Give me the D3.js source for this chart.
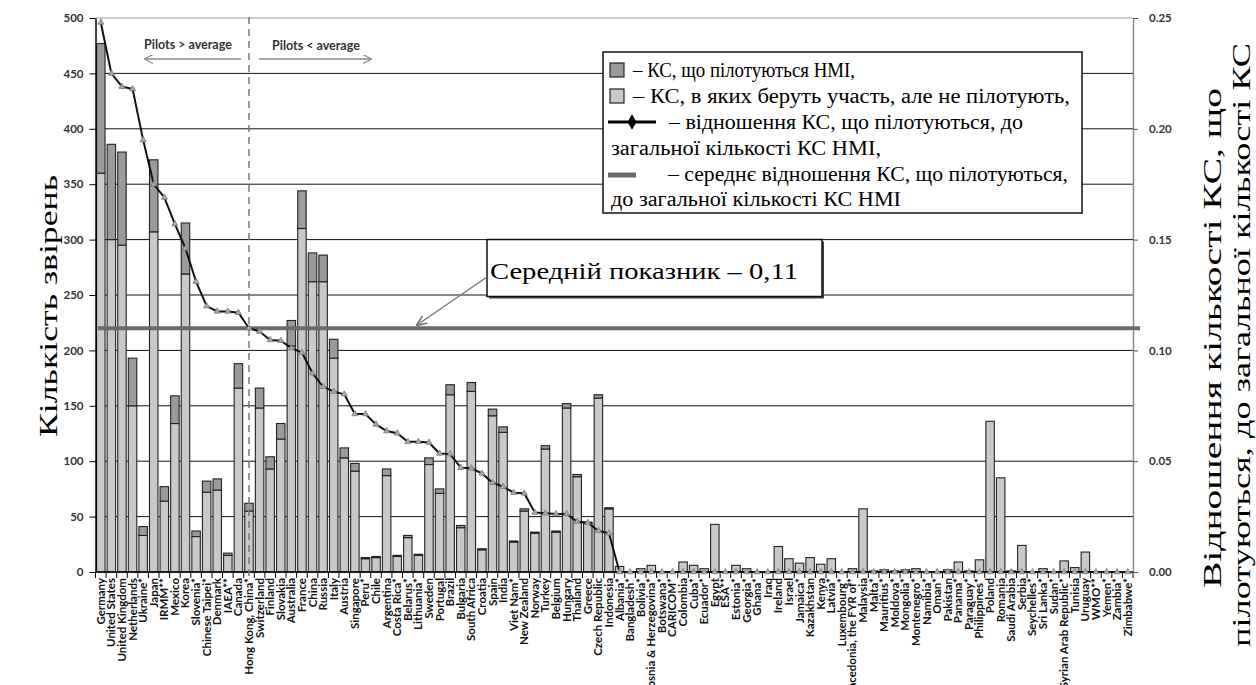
<!DOCTYPE html>
<html><head><meta charset="utf-8">
<script src="https://cdn.jsdelivr.net/npm/d3@7"></script>
<style>body{margin:0;background:#fff}svg{display:block}</style>
</head><body>
<svg id="c" width="1256" height="685"></svg>
<script>
const categories = ["Germany","United States","United Kingdom","Netherlands","Ukraine*","Japan","IRMM**","Mexico","Korea","Slovenia*","Chinese Taipei*","Denmark","IAEA**","Canada","Hong Kong, China*","Switzerland","Finland","Slovakia","Australia","France","China","Russia","Italy","Austria","Singapore","Peru*","Chile","Argentina","Costa Rica*","Belarus*","Lithuania*","Sweden","Portugal","Brazil","Bulgaria","South Africa","Croatia","Spain","India","Viet Nam*","New Zealand","Norway","Turkey","Belgium","Hungary","Thailand","Greece","Czech Republic","Indonesia","Albania*","Bangladesh*","Bolivia*","Bosnia & Herzegovina*","Botswana*","CARICOM*","Colombia","Cuba*","Ecuador*","Egypt","ESA**","Estonia*","Georgia*","Ghana*","Iraq","Ireland","Israel","Jamaica*","Kazakhstan","Kenya","Latvia*","Luxembourg*","Macedonia, the FYR of*","Malaysia","Malta*","Mauritius*","Moldova*","Mongolia*","Montenegro*","Namibia*","Oman*","Pakistan","Panama*","Paraguay*","Philippines*","Poland","Romania","Saudi Arabia","Serbia","Seychelles*","Sri Lanka*","Sudan*","Syrian Arab Republic*","Tunisia","Uruguay","WMO**","Yemen*","Zambia*","Zimbabwe*"];

// KC in which the NMI participates but does not pilot
const participating = [360,300,295,150,33,307,64,134,269,32,72,74,15,166,55,148,93,120,204,310,262,262,193,103,91,12,13,87,14,31,15,97,71,160,40,163,20,141,126,27,55,35,111,36,148,86,44,157,57,5,
 0,3,6,0,0,9,6,3,43,0,6,3,0,0,23,12,8,13,7,12,0,3,57,1,2,1,2,3,0,0,2,9,1,11,136,85,1,24,0,3,0,10,4,18,0,0,0,0];

// KC piloted by the NMI
const piloted = [117,86,84,43,8,65,13,25,46,5,10,10,2,22,7,18,11,14,23,34,26,24,17,9,7,1,1,6,1,2,1,6,4,9,2,8,1,6,5,1,2,1,3,1,4,2,1,3,1,0,
 0,0,0,0,0,0,0,0,0,0,0,0,0,0,0,0,0,0,0,0,0,0,0,0,0,0,0,0,0,0,0,0,0,0,0,0,0,0,0,0,0,0,0,0,0,0,0,0];

// ratio of piloted KC to total KC of the NMI (right axis)
const ratio = [0.248,0.225,0.219,0.218,0.195,0.175,0.169,0.157,0.146,0.131,0.120,0.1176,0.1176,0.117,0.110,0.1085,0.1047,0.1044,0.101,0.099,0.0897,0.0836,0.0814,0.0802,0.0713,0.0713,0.0666,0.0636,0.0626,0.0588,0.0588,0.0584,0.0535,0.0532,0.0471,0.0468,0.0445,0.0403,0.0385,0.0358,0.0355,0.0268,0.0265,0.0262,0.0262,0.0227,0.0222,0.0186,0.0175,0,
 0,0,0,0,0,0,0,0,0,0,0,0,0,0,0,0,0,0,0,0,0,0,0,0,0,0,0,0,0,0,0,0,0,0,0,0,0,0,0,0,0,0,0,0,0,0,0,0];

const averageRatio = 0.11;
const averageLabel = "Середній показник – 0,11";
const leftTicks = [0,50,100,150,200,250,300,350,400,450,500];
const rightTicks = [0,0.05,0.10,0.15,0.20,0.25];
const dividerCategory = "Hong Kong, China*";
const leftTitle = "Кількість звірень";
const rightTitle = ["Відношення кількості КС, що","пілотуються, до загальної кількості КС"];
const legendLines = ["– КС, що пілотуються НМІ,","– КС, в яких беруть участь, але не пілотують,","– відношення КС, що пілотуються, до","загальної кількості КС НМІ,","– середнє відношення КС, що пілотуються,","до загальної кількості КС НМІ"];

const svg = d3.select("#c");
const X0 = 95.5, X1 = 1133, Y0 = 572, Y1 = 18;
const x = d3.scaleBand().domain(categories).range([X0, X1]).paddingInner(0.2).paddingOuter(0.1);
const yL = d3.scaleLinear().domain([0,500]).range([Y0, Y1]);
const yR = d3.scaleLinear().domain([0,0.25]).range([Y0, Y1]);
const step = x.step();
const cx = d => x(d) + x.bandwidth()/2;
const serif = "'Liberation Serif','Times New Roman',serif";
const sans = "Lato, 'Open Sans', sans-serif";

// gridlines
svg.append("g").selectAll("line").data(leftTicks.filter(t=>t>0)).join("line")
  .attr("x1", X0).attr("x2", X1).attr("y1", d=>yL(d)).attr("y2", d=>yL(d))
  .attr("stroke", d=> d===500 ? "#999" : "#111").attr("stroke-width", 1);

// bars
const data = categories.map((c,i)=>({c, p: participating[i], d: piloted[i], r: ratio[i]}));
const gb = svg.append("g");
gb.selectAll("rect.l").data(data.filter(d=>d.p>0)).join("rect").attr("class","l")
  .attr("x", d=>x(d.c)).attr("width", x.bandwidth())
  .attr("y", d=>yL(d.p)).attr("height", d=>yL(0)-yL(d.p))
  .attr("fill","#c9c9c9").attr("stroke","#222").attr("stroke-width",1.1);
gb.selectAll("rect.d").data(data.filter(d=>d.d>0)).join("rect").attr("class","d")
  .attr("x", d=>x(d.c)).attr("width", x.bandwidth())
  .attr("y", d=>yL(d.p+d.d)).attr("height", d=>yL(d.p)-yL(d.p+d.d))
  .attr("fill","#9b9b9b").attr("stroke","#222").attr("stroke-width",1.1);

// x axis
svg.append("line").attr("x1",X0).attr("x2",X1).attr("y1",Y0).attr("y2",Y0).attr("stroke","#000").attr("stroke-width",1.5);
svg.append("g").selectAll("line").data(d3.range(categories.length+1)).join("line")
  .attr("x1", i=> i<categories.length ? x(categories[i]) - step*0.1 : x(categories[i-1]) + x.bandwidth() + step*0.1)
  .attr("x2", i=> i<categories.length ? x(categories[i]) - step*0.1 : x(categories[i-1]) + x.bandwidth() + step*0.1)
  .attr("y1", Y0).attr("y2", Y0+6).attr("stroke","#000").attr("stroke-width",1);
svg.append("g").selectAll("text").data(categories).join("text")
  .attr("transform", d=>`translate(${cx(d)+4},${Y0+6}) rotate(-90)`)
  .attr("text-anchor","end").attr("font-family",sans).attr("font-weight","bold")
  .attr("font-size",11.5).attr("fill","#111").text(d=>d);

// left axis
const la = svg.append("g").attr("transform",`translate(${X0},0)`)
  .call(d3.axisLeft(yL).tickValues(leftTicks).tickSize(6).tickSizeOuter(0).tickPadding(6));
la.select(".domain").attr("stroke","#000").attr("stroke-width",1.5);
la.selectAll("text").attr("font-family",sans).attr("font-weight","bold").attr("font-size",11.5).attr("fill","#333");

// right axis
const ra = svg.append("g").attr("transform",`translate(${X1},0)`)
  .call(d3.axisRight(yR).tickValues(rightTicks).tickFormat(d3.format(".2f")).tickSize(5).tickSizeOuter(0).tickPadding(11));
ra.select(".domain").attr("stroke","#888").attr("stroke-width",1.5);
ra.selectAll("line").attr("stroke","#555");
ra.selectAll("text").attr("font-family",sans).attr("font-weight","bold").attr("font-size",11.5).attr("fill","#333");

// divider dashed line
const xd = cx(dividerCategory);
svg.append("line").attr("x1",xd).attr("x2",xd).attr("y1",17).attr("y2",580)
  .attr("stroke","#777").attr("stroke-width",1.5).attr("stroke-dasharray","7,5");

// pilots annotations
svg.append("defs").html(`<marker id="oa" viewBox="0 0 10 10" refX="9" refY="5" markerWidth="9" markerHeight="9" orient="auto-start-reverse" markerUnits="userSpaceOnUse"><path d="M0,0 L10,5 L0,10" fill="none" stroke="#888" stroke-width="1.3"/></marker>
<marker id="ga" viewBox="0 0 10 10" refX="9" refY="5" markerWidth="11" markerHeight="11" orient="auto" markerUnits="userSpaceOnUse"><path d="M0,1 L10,5 L0,9" fill="none" stroke="#777" stroke-width="1.5"/></marker>`);
svg.append("text").attr("x",144).attr("y",49).attr("font-family",sans).attr("font-weight","bold").attr("font-size",12.5).attr("fill","#333").text("Pilots > average");
svg.append("text").attr("x",272).attr("y",50).attr("font-family",sans).attr("font-weight","bold").attr("font-size",12.5).attr("fill","#333").text("Pilots < average");
svg.append("line").attr("x1",241).attr("x2",145).attr("y1",59).attr("y2",59).attr("stroke","#888").attr("stroke-width",1.3).attr("marker-end","url(#oa)");
svg.append("line").attr("x1",259).attr("x2",371).attr("y1",59).attr("y2",59).attr("stroke","#888").attr("stroke-width",1.3).attr("marker-end","url(#oa)");

// average line
svg.append("line").attr("x1",98).attr("x2",1140).attr("y1",yR(averageRatio)).attr("y2",yR(averageRatio))
  .attr("stroke","#6a6a6a").attr("stroke-width",4);

// ratio line
svg.append("path").datum(data).attr("fill","none").attr("stroke","#111").attr("stroke-width",2)
  .attr("d", d3.line().x(d=>cx(d.c)).y(d=>yR(d.r)));
svg.append("g").selectAll("path").data(data).join("path")
  .attr("transform", d=>`translate(${cx(d.c)},${yR(d.r)})`)
  .attr("d", d3.symbol(d3.symbolTriangle).size(16))
  .attr("fill","#aaa").attr("stroke","#777").attr("stroke-width",0.8);

// average callout
svg.append("rect").attr("x",489).attr("y",241.5).attr("width",335).attr("height",57).attr("fill","#444");
svg.append("rect").attr("x",487).attr("y",239.5).attr("width",335).attr("height",57).attr("fill","#fff").attr("stroke","#111").attr("stroke-width",1.5);
svg.append("text").attr("x",490).attr("y",279).attr("font-family",serif).attr("font-size",23)
  .attr("textLength",308).attr("lengthAdjust","spacingAndGlyphs").attr("fill","#000").text(averageLabel);
svg.append("line").attr("x1",487).attr("y1",277).attr("x2",417).attr("y2",325)
  .attr("stroke","#777").attr("stroke-width",1.5).attr("marker-end","url(#ga)");

// legend
const lg = svg.append("g");
lg.append("rect").attr("x",603).attr("y",52).attr("width",479).attr("height",161).attr("fill","#fff").attr("stroke","#111").attr("stroke-width",1.5);
lg.append("rect").attr("x",610).attr("y",63).attr("width",14).attr("height",14).attr("fill","#9b9b9b").attr("stroke","#222").attr("stroke-width",1.2);
lg.append("rect").attr("x",610).attr("y",89).attr("width",14).attr("height",14).attr("fill","#c9c9c9").attr("stroke","#222").attr("stroke-width",1.2);
lg.append("line").attr("x1",608).attr("x2",656).attr("y1",122).attr("y2",122).attr("stroke","#000").attr("stroke-width",3);
lg.append("path").attr("transform","translate(632,122)").attr("d",d3.symbol(d3.symbolDiamond).size(70)).attr("fill","#000");
lg.append("line").attr("x1",608).attr("x2",636).attr("y1",175).attr("y2",175).attr("stroke","#6a6a6a").attr("stroke-width",5);
const legPos = [[633,77,222],[633,103,437],[669,129,354],[611,155,270],[668,181,400],[611,206,290]];
lg.selectAll("text").data(legendLines).join("text")
  .attr("x",(d,i)=>legPos[i][0]).attr("y",(d,i)=>legPos[i][1])
  .attr("textLength",(d,i)=>legPos[i][2]).attr("lengthAdjust","spacingAndGlyphs")
  .attr("font-family",serif).attr("font-size",20).attr("fill","#000").text(d=>d);

// axis titles
svg.append("text").attr("transform","translate(57,306) rotate(-90)").attr("text-anchor","middle")
  .attr("font-family",serif).attr("font-size",26).attr("textLength",262).attr("lengthAdjust","spacingAndGlyphs")
  .attr("fill","#000").text(leftTitle);
svg.append("text").attr("transform","translate(1221,338) rotate(-90)").attr("text-anchor","middle")
  .attr("font-family",serif).attr("font-size",26).attr("textLength",500).attr("lengthAdjust","spacingAndGlyphs")
  .attr("fill","#000").text(rightTitle[0]);
svg.append("text").attr("transform","translate(1250,345) rotate(-90)").attr("text-anchor","middle")
  .attr("font-family",serif).attr("font-size",26).attr("textLength",604).attr("lengthAdjust","spacingAndGlyphs")
  .attr("fill","#000").text(rightTitle[1]);
</script>
</body></html>
